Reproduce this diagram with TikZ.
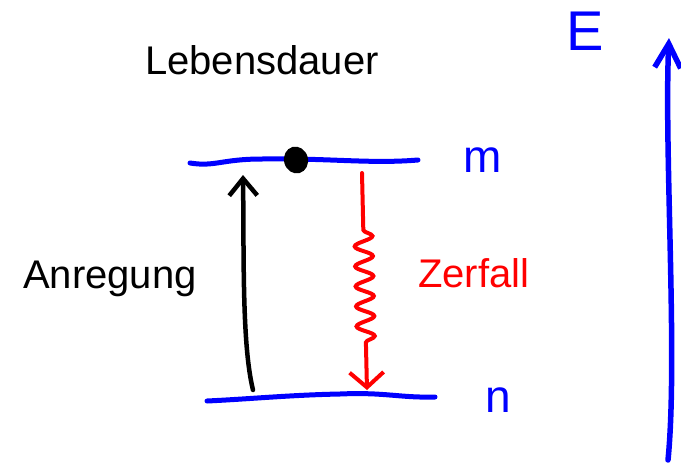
\documentclass[tikz,border=0pt]{standalone}
\usepackage{fontspec}
\setmainfont{Liberation Sans}
\usetikzlibrary{arrows.meta,decorations.pathmorphing,shapes.geometric}

\begin{document}
\begin{tikzpicture}[
  x=1pt,y=-1pt,
  txt/.style={font=\fontsize{40}{48}\selectfont,anchor=base west,inner sep=0pt},
  hand/.style={font=\fontsize{46}{52}\selectfont,anchor=base west,inner sep=0pt,text=blue},
  lvl/.style={draw=blue,line width=5pt,line cap=round},
  exc/.style={draw=black,line width=4.5pt,line cap=round,
    -{Straight Barb[length=17pt,width=28pt,line width=4.5pt]}},
  dec/.style={draw=red,line width=4pt,line cap=round,
    decorate,decoration={snake,segment length=20pt,amplitude=9pt,pre length=57pt,post length=40pt},
    -{Straight Barb[length=15pt,width=34pt,line width=4pt]}},
  axis/.style={draw=blue,line width=5.5pt,line cap=round,
    -{Straight Barb[length=24pt,width=26pt,line width=5.5pt]}}
]
\useasboundingbox (0,0) rectangle (681,464);
\coordinate (up-l) at (190,163);
\coordinate (up-r) at (418,160);
\coordinate (lo-l) at (207,401);
\coordinate (lo-r) at (435,397);
\coordinate (exc-s) at (253,390);
\coordinate (exc-e) at (243,175);
\coordinate (dec-s) at (362,173);
\coordinate (dec-e) at (367,390);
\coordinate (ax-s) at (668,460);
\coordinate (ax-e) at (669,38);
\path[lvl] (up-l) .. controls (215,167) and (222,159) .. (262,159)
  .. controls (330,158) and (370,164) .. (up-r);
\path[lvl] (lo-l) .. controls (250,399) and (290,395) .. (340,394)
  .. controls (385,392) and (400,398) .. (lo-r);
\node[ellipse,fill=black,inner sep=0pt,minimum width=24pt,minimum height=27pt,rotate=15] (dot) at (296,160) {};
\path[exc] (exc-s) .. controls (242,345) and (244,260) .. (exc-e);
\path[dec] (dec-s) -- (dec-e);
\path[axis] (ax-s) .. controls (678,360) and (664,150) .. (ax-e);
\node[txt] (life) at (145,74) {Lebensdauer};
\node[txt] (anr) at (23,288) {Anregung};
\node[txt,text=red] (zerf) at (418,287) {Zerfall};
\node[hand] (m) at (463,172) {m};
\node[hand] (n) at (485,412) {n};
\node[hand,font=\fontsize{56}{60}\selectfont] (E) at (566,50) {E};
\end{tikzpicture}
\end{document}
